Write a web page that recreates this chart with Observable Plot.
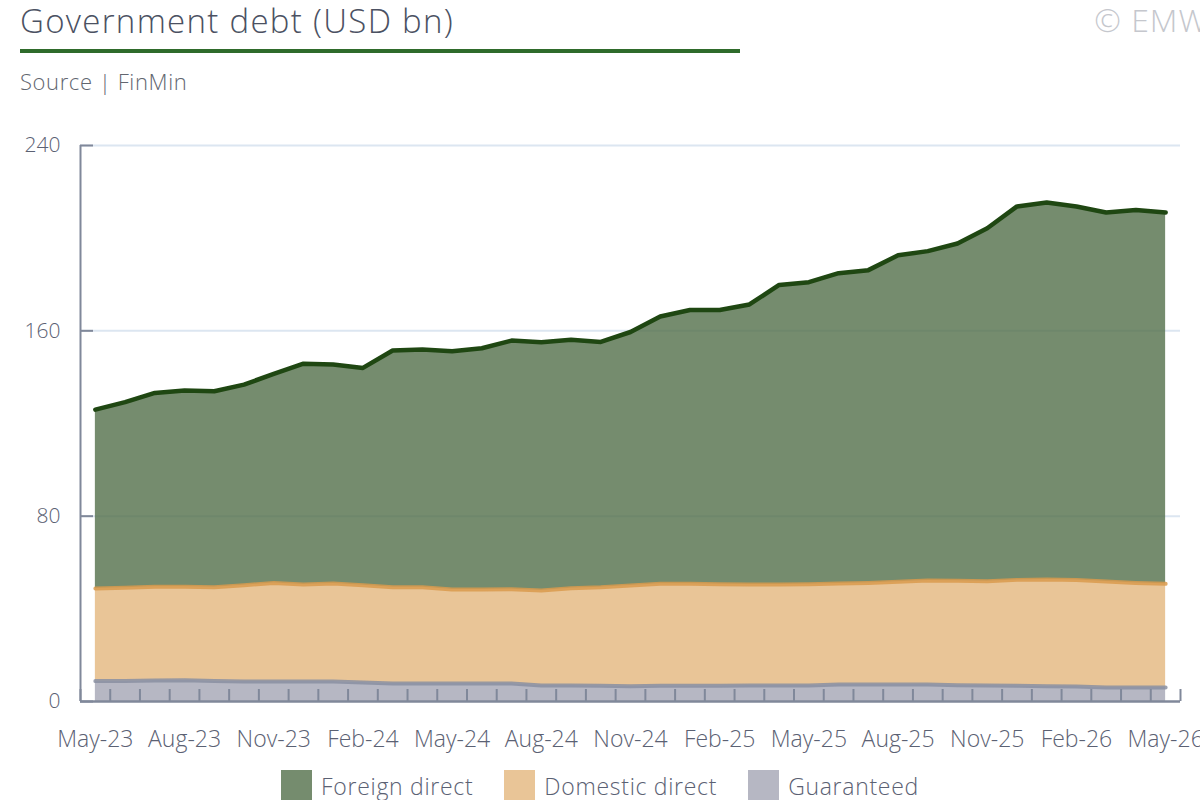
<!DOCTYPE html>
<html>
<head>
<meta charset="utf-8">
<script src="https://cdn.jsdelivr.net/npm/d3@7"></script>
<script src="https://cdn.jsdelivr.net/npm/@observablehq/plot@0.6"></script>
<style>
  body { margin: 0; background: #fff; font-family: "Open Sans", sans-serif; }
  #wrap { position: relative; width: 1200px; height: 800px; overflow: hidden; background: #fff; }
  #title { position: absolute; left: 20px; top: 4px; font-size: 33px; letter-spacing: 1.3px; line-height: 1; color: #4b5162; font-weight: 300; white-space: nowrap; }
  #rule { position: absolute; left: 20px; top: 49px; width: 720px; height: 4px; background: #2f6b2b; }
  #source { position: absolute; left: 20px; top: 70px; font-size: 22px; letter-spacing: 0.6px; line-height: 1; color: #62666f; font-weight: 300; white-space: nowrap; }
  #copy { position: absolute; right: -8px; top: 4px; font-size: 32px; letter-spacing: 1px; line-height: 1; color: #c5c7cd; font-weight: 300; white-space: nowrap; }
  #chart { position: absolute; left: 0; top: 100px; }
  #legend { position: absolute; left: 0; top: 770px; width: 1200px; display: flex; justify-content: center; gap: 31px; }
  .item { display: flex; align-items: flex-start; gap: 9px; }
  .sw { width: 31px; height: 30px; }
  .lab { font-size: 23px; letter-spacing: 0.7px; line-height: 1; color: #5b6173; font-weight: 300; padding-top: 5px; white-space: nowrap; }
</style>
</head>
<body>
<div id="wrap">
  <div id="title">Government debt (USD bn)</div>
  <div id="rule"></div>
  <div id="source">Source | FinMin</div>
  <div id="copy">© EMW</div>
  <div id="chart"></div>
  <div id="legend"></div>
</div>
<script>
const months = ["May-23","Jun-23","Jul-23","Aug-23","Sep-23","Oct-23","Nov-23","Dec-23","Jan-24","Feb-24","Mar-24","Apr-24",
  "May-24","Jun-24","Jul-24","Aug-24","Sep-24","Oct-24","Nov-24","Dec-24","Jan-25","Feb-25","Mar-25","Apr-25",
  "May-25","Jun-25","Jul-25","Aug-25","Sep-25","Oct-25","Nov-25","Dec-25","Jan-26","Feb-26","Mar-26","Apr-26","May-26"];

const seriesNames = ["Foreign direct", "Domestic direct", "Guaranteed"];

const foreignDirect = [77.2, 80.1, 83.7, 84.7, 84.6, 86.6, 90.3, 95.3, 94.6, 93.8, 102.2, 102.6,
  102.9, 104.2, 107.3, 107.2, 107.2, 105.9, 109.4, 115.4, 118.2, 118.4, 120.9, 129.3,
  130.4, 134.0, 135.0, 140.9, 142.2, 145.6, 152.4, 161.2, 162.7, 161.3, 159.3, 161.0, 160.3];

const domesticDirect = [40.0, 40.2, 40.4, 40.3, 40.5, 41.6, 42.5, 41.9, 42.3, 42.0, 41.5, 41.5,
  40.5, 40.5, 40.7, 41.0, 42.0, 42.5, 43.5, 44.0, 44.0, 43.8, 43.6, 43.6,
  43.7, 43.6, 43.9, 44.4, 44.9, 45.1, 45.0, 45.7, 46.1, 45.9, 45.8, 45.2, 44.8];

const guaranteed = [8.8, 8.9, 9.1, 9.2, 8.8, 8.6, 8.6, 8.6, 8.6, 8.2, 7.8, 7.8,
  7.8, 7.8, 7.8, 6.9, 6.9, 6.8, 6.6, 6.8, 6.8, 6.8, 6.9, 6.9,
  6.9, 7.3, 7.3, 7.3, 7.3, 7.0, 6.9, 6.8, 6.6, 6.5, 6.0, 6.0, 6.0];

const yTicks = [0, 80, 160, 240];
const xLabelEvery = 3;

const fills = {"Foreign direct": "#526f4a", "Domestic direct": "#e4b77d", "Guaranteed": "#a4a5b4"};
const legendFills = {"Foreign direct": "#758c6e", "Domestic direct": "#e9c597", "Guaranteed": "#b6b7c3"};
const strokes = {"Foreign direct": "#1f4712", "Domestic direct": "#d99a4c", "Guaranteed": "#8a8fa1"};

// table for stacking
const valuesBySeries = {"Foreign direct": foreignDirect, "Domestic direct": domesticDirect, "Guaranteed": guaranteed};
const table = months.map((m, i) => {
  const row = {i, month: m};
  for (const s of seriesNames) row[s] = valuesBySeries[s][i];
  return row;
});
const stackOrder = ["Guaranteed", "Domestic direct", "Foreign direct"]; // bottom to top
const stacked = d3.stack().keys(stackOrder)(table);

const W = 1200, H = 665, mTop = 45, mBottom = 64, mLeft = 80, mRight = 20;
const innerH = H - mTop - mBottom, innerW = W - mLeft - mRight;
const xDomain = [-0.5, months.length - 0.5];
const xTickPos = d3.range(xDomain[0], xDomain[1] + 0.01, 1);
const xLabelPos = d3.range(0, months.length, xLabelEvery);
const axisColor = "#80889a";

const marks = [];
marks.push(Plot.ruleY(yTicks.filter(v => v > 0), {stroke: "#dce6f1", strokeWidth: 2}));
for (const layer of stacked) {
  const s = layer.key;
  const rows = layer.map((d, i) => ({i, y0: d[0], y1: d[1]}));
  marks.push(Plot.areaY(rows, {x: "i", y1: "y0", y2: "y1", fill: fills[s], fillOpacity: 0.8}));
}
for (const layer of stacked) {
  const s = layer.key;
  const rows = layer.map((d, i) => ({i, y1: d[1]}));
  marks.push(Plot.lineY(rows, {x: "i", y: "y1", stroke: strokes[s], strokeWidth: s === "Foreign direct" ? 4.5 : 4, strokeOpacity: s === "Foreign direct" ? 1 : 0.85}));
}
marks.push(Plot.ruleX(xTickPos, {x: d => d, stroke: axisColor, strokeWidth: 2, insetTop: innerH - 12}));
marks.push(Plot.ruleX([xDomain[0]], {stroke: axisColor, strokeWidth: 2}));
marks.push(Plot.ruleY([0], {stroke: axisColor, strokeWidth: 2.5}));
marks.push(Plot.ruleY(yTicks, {stroke: axisColor, strokeWidth: 2, insetRight: innerW - 13}));
marks.push(Plot.axisY({ticks: yTicks, tickSize: 0, tickPadding: 20, fontSize: 21, color: "#5b6173", label: null}));
marks.push(Plot.axisX({ticks: xLabelPos, tickFormat: i => months[i], tickSize: 0, tickPadding: 29, fontSize: 23, color: "#5b6173", label: null, letterSpacing: "0.4px"}));

const chart = Plot.plot({
  width: W, height: H,
  marginTop: mTop, marginBottom: mBottom, marginLeft: mLeft, marginRight: mRight,
  style: {fontFamily: "Open Sans", fontWeight: 300, overflow: "visible", background: "transparent"},
  x: {type: "linear", domain: xDomain, axis: null},
  y: {domain: [0, 240], axis: null},
  marks
});
document.getElementById("chart").appendChild(chart);

const legend = document.getElementById("legend");
for (const s of seriesNames) {
  const it = document.createElement("div");
  it.className = "item";
  const sw = document.createElement("div");
  sw.className = "sw";
  sw.style.background = legendFills[s];
  const lab = document.createElement("div");
  lab.className = "lab";
  lab.textContent = s;
  it.appendChild(sw); it.appendChild(lab);
  legend.appendChild(it);
}
</script>
</body>
</html>
